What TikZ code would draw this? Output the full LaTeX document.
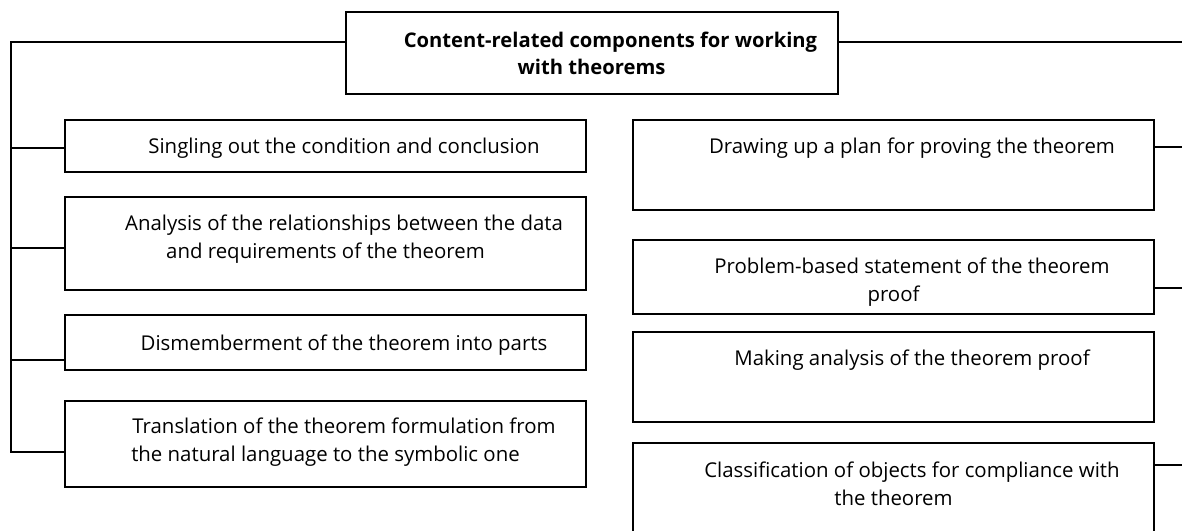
\documentclass[tikz,border=0pt]{standalone}
\usepackage{fontspec}
\setmainfont{Open Sans}
\begin{document}
\begin{tikzpicture}[x=1pt,y=-1pt,
  box/.style={draw, line width=1.9pt, inner sep=0pt, outer sep=0pt, fill=white},
  wire/.style={line width=1.9pt},
  txt/.style={inner sep=0pt, anchor=base, font=\fontsize{20.4}{24}\selectfont},
  ttl/.style={txt, font=\fontsize{20.2}{24}\selectfont\bfseries}]
\clip (0,0) rectangle (1182,530);
\fill[white] (0,0) rectangle (1182,530);

% boxes
\node[box, minimum width=492pt, minimum height=82pt] (title) at (592,53) {};
\node[box, minimum width=521pt, minimum height=52pt] (l1) at (325.5,146) {};
\node[box, minimum width=521pt, minimum height=93pt] (l2) at (325.5,243.5) {};
\node[box, minimum width=521pt, minimum height=55pt] (l3) at (325.5,342.5) {};
\node[box, minimum width=521pt, minimum height=86pt] (l4) at (325.5,444) {};
\node[box, minimum width=521pt, minimum height=90pt] (r1) at (893.5,165) {};
\node[box, minimum width=521pt, minimum height=74pt] (r2) at (893.5,277) {};
\node[box, minimum width=521pt, minimum height=90pt] (r3) at (893.5,377) {};
\node[box, minimum width=521pt, minimum height=102pt] (r4) at (893.5,494) {};

% texts
\node[ttl] (title1) at (610.5,47) {Content-related components for working};
\node[ttl] (title2) at (591.5,74) {with theorems};
\node[txt] (l1a) at (344,153) {Singling out the condition and conclusion};
\node[txt] (l2a) at (344,230) {Analysis of the relationships between the data};
\node[txt] (l2b) at (325.5,258) {and requirements of the theorem};
\node[txt] (l3a) at (344,350) {Dismemberment of the theorem into parts};
\node[txt] (l4a) at (344,433) {Translation of the theorem formulation from};
\node[txt] (l4b) at (325.5,461) {the natural language to the symbolic one};
\node[txt] (r1a) at (912,153) {Drawing up a plan for proving the theorem};
\node[txt] (r2a) at (912,273) {Problem-based statement of the theorem};
\node[txt] (r2b) at (893.5,301) {proof};
\node[txt] (r3a) at (912,365) {Making analysis of the theorem proof};
\node[txt] (r4a) at (912,477) {Classification of objects for compliance with};
\node[txt] (r4b) at (893.5,505) {the theorem};

% connectors
\coordinate (sl) at (11,42);
\coordinate (sr) at (1183,42);
\draw[wire] (title.west |- sl) -- (sl) -- (sl |- 0,452) -- (l4.west |- 0,452);
\draw[wire] (sl |- 0,148) -- (l1.west |- 0,148);
\draw[wire] (sl |- 0,248) -- (l2.west |- 0,248);
\draw[wire] (sl |- 0,360) -- (l3.west |- 0,360);
\draw[wire] (title.east |- sr) -- (sr);
\draw[wire] (r1.east |- 0,147) -- (sr |- 0,147);
\draw[wire] (r2.east |- 0,288) -- (sr |- 0,288);
\draw[wire] (r4.east |- 0,465) -- (sr |- 0,465);
\end{tikzpicture}
\end{document}
